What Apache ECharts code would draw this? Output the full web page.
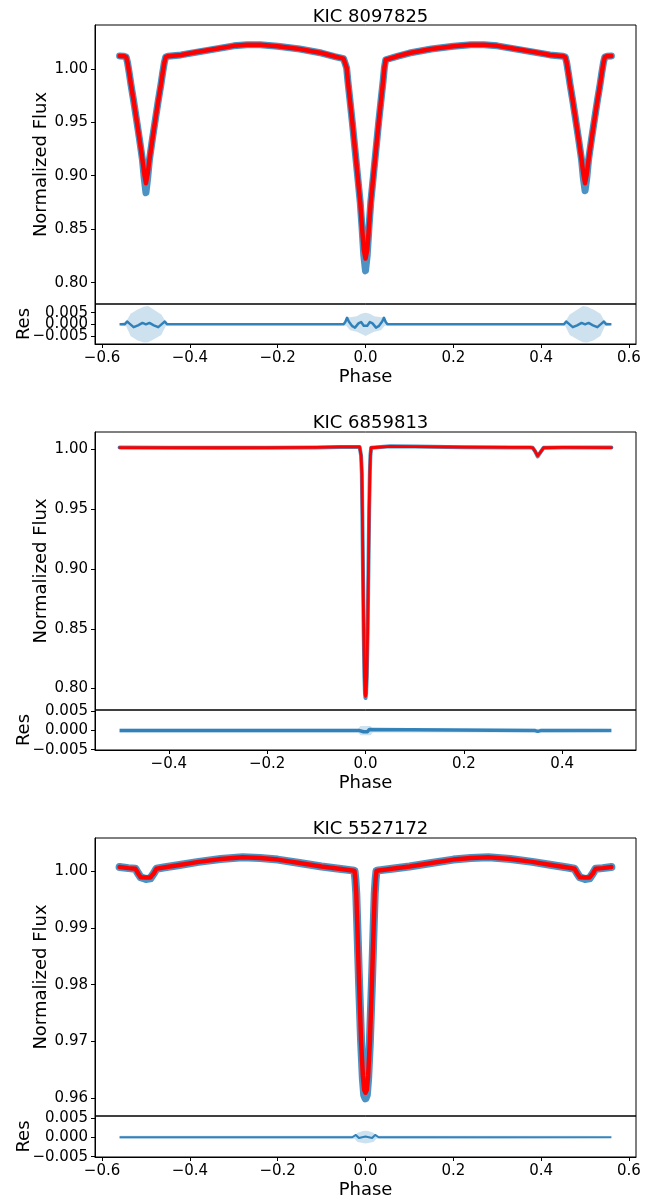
<!DOCTYPE html>
<html>
<head>
<meta charset="utf-8">
<script src="https://cdn.jsdelivr.net/npm/echarts@6/dist/echarts.min.js"></script>
<style>
html,body{margin:0;padding:0;background:#fff;}
#chart{width:664px;height:1198px;}
</style>
</head>
<body>
<div id="chart"></div>
<script>
// ---------------- DATA ----------------
const titles = ['KIC 8097825', 'KIC 6859813', 'KIC 5527172'];

const xTicksWide = [-0.6, -0.4, -0.2, 0.0, 0.2, 0.4, 0.6];
const xTicksNarrow = [-0.4, -0.2, 0.0, 0.2, 0.4];
const yTicks1 = [0.80, 0.85, 0.90, 0.95, 1.00];
const yTicks2 = [0.80, 0.85, 0.90, 0.95, 1.00];
const yTicks3 = [0.96, 0.97, 0.98, 0.99, 1.00];
const resTicks = [-0.005, 0.000, 0.005];

// Panel 1: KIC 8097825
const phase1 = [-0.560,-0.550,-0.545,-0.542,-0.538,-0.534,-0.528,-0.522,-0.515,-0.508,
  -0.504,-0.500,-0.496,-0.492,-0.485,-0.478,-0.472,-0.466,-0.462,-0.458,
  -0.455,-0.450,-0.420,-0.400,-0.350,-0.300,-0.270,-0.240,-0.200,-0.150,
  -0.100,-0.070,-0.050,-0.046,-0.043,-0.040,-0.036,-0.030,-0.024,-0.018,
  -0.012,-0.008,-0.004,0.000,0.004,0.008,0.012,
  0.018,0.024,0.030,0.036,0.040,0.043,0.046,0.050,0.070,0.100,
  0.150,0.200,0.240,0.270,0.300,0.350,0.400,0.420,0.450,0.455,
  0.458,0.462,0.466,0.472,0.478,0.485,0.492,0.496,0.500,0.504,
  0.508,0.515,0.522,0.528,0.534,0.538,0.542,0.545,0.550,0.560];
const model1 = [1.0120,1.0118,1.0110,1.0060,0.9960,0.9850,0.9700,0.9540,0.9350,0.9150,
  0.9020,0.8930,0.9020,0.9150,0.9350,0.9540,0.9700,0.9850,0.9960,1.0060,
  1.0110,1.0118,1.0130,1.0145,1.0180,1.0215,1.0225,1.0225,1.0212,1.0185,
  1.0148,1.0115,1.0095,1.0085,1.0010,0.9880,0.9730,0.9500,0.9250,0.9000,
  0.8750,0.8520,0.8310,0.8225,0.8310,0.8520,0.8750,
  0.9000,0.9250,0.9500,0.9730,0.9880,1.0010,1.0085,1.0095,1.0115,1.0148,
  1.0185,1.0212,1.0225,1.0225,1.0215,1.0180,1.0145,1.0130,1.0118,1.0110,
  1.0060,0.9960,0.9850,0.9700,0.9540,0.9350,0.9150,0.9020,0.8930,0.9020,
  0.9150,0.9350,0.9540,0.9700,0.9850,0.9960,1.0060,1.0110,1.0118,1.0120];
const obs1 = [1.0120,1.0118,1.0110,1.0060,0.9960,0.9850,0.9700,0.9540,0.9350,0.9150,
  0.8980,0.8840,0.8980,0.9150,0.9350,0.9540,0.9700,0.9850,0.9960,1.0060,
  1.0110,1.0118,1.0130,1.0145,1.0180,1.0215,1.0225,1.0225,1.0212,1.0185,
  1.0148,1.0115,1.0095,1.0085,1.0010,0.9880,0.9730,0.9500,0.9250,0.9000,
  0.8750,0.8520,0.8260,0.8110,0.8260,0.8520,0.8750,
  0.9000,0.9250,0.9500,0.9730,0.9880,1.0010,1.0085,1.0095,1.0115,1.0148,
  1.0185,1.0212,1.0225,1.0225,1.0215,1.0180,1.0145,1.0130,1.0118,1.0110,
  1.0060,0.9960,0.9850,0.9700,0.9540,0.9350,0.9150,0.8980,0.8860,0.8980,
  0.9150,0.9350,0.9540,0.9700,0.9850,0.9960,1.0060,1.0110,1.0118,1.0120];
const resPhase1 = [-0.560,-0.548,-0.543,-0.538,-0.528,-0.518,-0.508,-0.500,-0.492,-0.482,
  -0.472,-0.462,-0.457,-0.452,-0.050,-0.046,-0.042,-0.038,-0.030,-0.024,
  -0.016,-0.010,-0.004,0.000,0.004,0.010,0.016,0.024,0.030,0.038,
  0.042,0.046,0.050,0.452,0.457,0.462,0.472,0.482,0.492,0.500,
  0.508,0.518,0.528,0.538,0.543,0.548,0.560];
const res1 = [0.0000,0.0000,0.0012,0.0004,-0.0012,-0.0004,0.0006,0.0000,0.0006,-0.0004,
  -0.0012,0.0004,0.0012,0.0000,0.0000,0.0010,0.0028,0.0012,-0.0008,-0.0014,
  0.0004,0.0010,-0.0006,-0.0008,-0.0006,0.0010,0.0004,-0.0014,-0.0008,0.0012,
  0.0028,0.0010,0.0000,0.0000,0.0012,0.0004,-0.0012,-0.0004,0.0006,0.0000,
  0.0006,-0.0004,-0.0012,0.0004,0.0012,0.0000,0.0000];
const envPhase1 = [-0.560,-0.545,-0.535,-0.520,-0.505,-0.495,-0.480,-0.465,-0.455,-0.450,
  -0.050,-0.044,-0.035,-0.020,-0.010,0.000,0.010,0.020,0.035,0.044,
  0.050,0.450,0.455,0.465,0.480,0.495,0.505,0.520,0.535,0.545,0.560];
const envUp1 = [0.0004,0.0012,0.0045,0.0062,0.0075,0.0078,0.0060,0.0042,0.0012,0.0004,
  0.0004,0.0032,0.0030,0.0035,0.0045,0.0050,0.0045,0.0035,0.0030,0.0032,
  0.0004,0.0004,0.0012,0.0042,0.0060,0.0078,0.0075,0.0062,0.0045,0.0012,0.0004];
const envLo1 = [-0.0004,-0.0008,-0.0050,-0.0068,-0.0078,-0.0076,-0.0062,-0.0045,-0.0008,-0.0004,
  -0.0004,-0.0006,-0.0025,-0.0032,-0.0040,-0.0050,-0.0040,-0.0032,-0.0025,-0.0006,
  -0.0004,-0.0004,-0.0008,-0.0045,-0.0062,-0.0076,-0.0078,-0.0068,-0.0050,-0.0008,-0.0004];

// Panel 2: KIC 6859813
const phase2 = [-0.500,-0.400,-0.300,-0.200,-0.100,-0.050,
  -0.012,-0.010,-0.009,-0.0075,-0.0065,-0.0052,-0.0038,-0.0022,-0.0010,0.0000,
  0.0012,0.0026,0.0044,0.0060,0.0075,0.0088,0.0100,0.0115,0.0130,
  0.050,0.100,0.200,0.300,0.335,0.340,0.345,0.350,0.352,0.357,0.362,0.366,0.400,0.500];
const model2 = [1.0017,1.0016,1.0015,1.0016,1.0018,1.0022,
  1.0022,1.0010,0.9950,0.9800,0.9500,0.9000,0.8500,0.8100,0.7960,0.7935,
  0.7960,0.8100,0.8500,0.9000,0.9500,0.9800,0.9950,1.0015,1.0024,
  1.0027,1.0025,1.0020,1.0018,1.0018,1.0015,0.9985,0.9948,0.9948,0.9985,1.0015,1.0018,1.0018,1.0017];
const obs2 = [1.0017,1.0016,1.0015,1.0016,1.0018,1.0022,
  1.0022,1.0010,0.9950,0.9800,0.9500,0.9000,0.8500,0.8100,0.7950,0.7920,
  0.7950,0.8100,0.8500,0.9000,0.9500,0.9800,0.9950,1.0015,1.0024,
  1.0027,1.0025,1.0020,1.0018,1.0018,1.0015,0.9985,0.9942,0.9942,0.9985,1.0015,1.0018,1.0018,1.0017];
const resPhase2 = [-0.500,-0.012,-0.008,-0.004,0.000,0.004,0.008,0.012,0.345,0.350,0.356,0.500];
const res2 = [0.0000,0.0000,0.0003,-0.0003,0.0002,-0.0003,0.0003,0.0000,0.0000,-0.0002,0.0000,0.0000];
const envPhase2 = [-0.500,-0.015,-0.010,0.010,0.015,0.500];
const envUp2 = [0.0005,0.0005,0.0012,0.0012,0.0005,0.0005];
const envLo2 = [-0.0005,-0.0005,-0.0012,-0.0012,-0.0005,-0.0005];

// Panel 3: KIC 5527172
const phase3 = [-0.560,-0.540,-0.524,-0.518,-0.512,-0.510,-0.500,-0.490,-0.488,-0.482,
  -0.476,-0.460,-0.420,-0.380,-0.330,-0.280,-0.240,-0.200,-0.150,-0.100,
  -0.060,-0.030,-0.025,-0.023,-0.021,-0.0185,-0.0145,-0.010,-0.006,-0.003,
  0.000,
  0.003,0.006,0.010,0.0145,0.0185,0.021,0.023,0.025,0.030,0.060,
  0.100,0.150,0.200,0.240,0.280,0.330,0.380,0.420,0.460,0.476,
  0.482,0.488,0.490,0.500,0.510,0.512,0.518,0.524,0.540,0.560];
const model3 = [1.0007,1.0005,1.0004,0.9996,0.9989,0.99885,0.99885,0.99885,0.9989,0.9996,
  1.0004,1.0006,1.0011,1.0016,1.0021,1.0024,1.0023,1.0020,1.0014,1.0008,
  1.0004,1.0001,1.0000,0.9985,0.9960,0.9900,0.9800,0.9700,0.9640,0.9615,
  0.9610,
  0.9615,0.9640,0.9700,0.9800,0.9900,0.9960,0.9985,1.0000,1.0001,1.0004,
  1.0008,1.0014,1.0020,1.0023,1.0024,1.0021,1.0016,1.0011,1.0006,1.0004,
  0.9996,0.9989,0.99885,0.99885,0.99885,0.9989,0.9996,1.0004,1.0005,1.0007];
const obs3 = [1.0007,1.0005,1.0004,0.9996,0.9989,0.99870,0.99860,0.99870,0.9989,0.9996,
  1.0004,1.0006,1.0011,1.0016,1.0021,1.0024,1.0023,1.0020,1.0014,1.0008,
  1.0004,1.0001,1.0000,0.9985,0.9960,0.9900,0.9800,0.9700,0.9635,0.9606,
  0.9600,
  0.9606,0.9635,0.9700,0.9800,0.9900,0.9960,0.9985,1.0000,1.0001,1.0004,
  1.0008,1.0014,1.0020,1.0023,1.0024,1.0021,1.0016,1.0011,1.0006,1.0004,
  0.9996,0.9989,0.99870,0.99860,0.99870,0.9989,0.9996,1.0004,1.0005,1.0007];
const resPhase3 = [-0.560,-0.030,-0.022,-0.015,0.000,0.015,0.022,0.030,0.560];
const res3 = [0.0000,0.0000,0.0006,-0.0002,0.0002,-0.0002,0.0006,0.0000,0.0000];
const envPhase3 = [-0.560,-0.025,-0.018,-0.006,0.000,0.006,0.018,0.025,0.560];
const envUp3 = [0.0004,0.0004,0.0012,0.0016,0.0017,0.0016,0.0012,0.0004,0.0004];
const envLo3 = [-0.0004,-0.0004,-0.0012,-0.0015,-0.0016,-0.0015,-0.0012,-0.0004,-0.0004];

// ---------------- LAYOUT / STYLE ----------------
const FONT = 'DejaVu Sans';
const BLUE = '#1f77b4';
const RED = '#ff0000';
const LEFT = 95, WIDTH = 541;

const panels = [
  {title: titles[0], titleTop: 3, top: 25, mainH: 279, resH: 40,
   x: [-0.616, 0.616], xt: xTicksWide, y: [0.780, 1.041], yt: yTicks1, r: [-0.0084, 0.0087],
   ph: phase1, mod: model1, obs: obs1, rp: resPhase1, rv: res1, ep: envPhase1, eu: envUp1, el: envLo1,
   obsW: 7, modW: 4.5, resW: 2.5},
  {title: titles[1], titleTop: 409, top: 432, mainH: 278, resH: 40,
   x: [-0.55, 0.55], xt: xTicksNarrow, y: [0.782, 1.0147], yt: yTicks2, r: [-0.0051, 0.0054],
   ph: phase2, mod: model2, obs: obs2, rp: resPhase2, rv: res2, ep: envPhase2, eu: envUp2, el: envLo2,
   obsW: 4, modW: 2.8, resW: 3.5},
  {title: titles[2], titleTop: 815, top: 838, mainH: 278, resH: 41,
   x: [-0.616, 0.616], xt: xTicksWide, y: [0.9569, 1.0058], yt: yTicks3, r: [-0.0051, 0.0055],
   ph: phase3, mod: model3, obs: obs3, rp: resPhase3, rv: res3, ep: envPhase3, eu: envUp3, el: envLo3,
   obsW: 8, modW: 4.5, resW: 2}
];

const minus = s => s.replace('-', '\u2212');
const fmtX = v => minus(v.toFixed(1));
const fmtY = v => v.toFixed(2);
const fmtR = v => minus(v.toFixed(3));

const zip = (xs, ys) => xs.map((x, i) => [x, ys[i]]);

const grid = [], xAxis = [], yAxis = [], series = [], title = [];
const labelStyle = {color: '#000', fontFamily: FONT, fontSize: 15, hideOverlap: false, interval: 0};
const nameStyle = {color: '#000', fontFamily: FONT, fontSize: 18};

panels.forEach((p, k) => {
  const gi = grid.length;
  grid.push({left: LEFT, top: p.top, width: WIDTH, height: p.mainH, show: true,
    borderColor: '#000', borderWidth: 1, containLabel: false, outerBoundsMode: 'none'});
  const ri = grid.length;
  grid.push({left: LEFT, top: p.top + p.mainH, width: WIDTH, height: p.resH, show: true,
    borderColor: '#000', borderWidth: 1, containLabel: false, outerBoundsMode: 'none'});
  title.push({text: p.title, left: LEFT + WIDTH / 2, top: p.titleTop, textAlign: 'center',
    textStyle: {fontFamily: FONT, fontSize: 18, fontWeight: 'normal', color: '#000'}});

  const xm = xAxis.length;
  xAxis.push({type: 'value', gridIndex: gi, position: 'bottom', min: p.x[0], max: p.x[1],
    axisLine: {show: false}, axisTick: {show: false}, axisLabel: {show: false}, splitLine: {show: false}});
  const xr = xAxis.length;
  xAxis.push({type: 'value', gridIndex: ri, position: 'bottom', min: p.x[0], max: p.x[1],
    name: 'Phase', nameLocation: 'middle', nameGap: 24, nameMoveOverlap: false, nameTextStyle: nameStyle,
    axisLine: {show: true, onZero: false, lineStyle: {color: '#000'}},
    axisTick: {show: true, length: 4, customValues: p.xt, lineStyle: {color: '#000'}},
    axisLabel: Object.assign({customValues: p.xt, formatter: fmtX, margin: 7}, labelStyle),
    splitLine: {show: false}});

  const ym = yAxis.length;
  yAxis.push({type: 'value', gridIndex: gi, position: 'left', offset: 0, min: p.y[0], max: p.y[1],
    name: 'Normalized Flux', nameLocation: 'middle', nameGap: 45, nameMoveOverlap: false, nameTextStyle: nameStyle,
    axisLine: {show: true, onZero: false, lineStyle: {color: '#000'}},
    axisTick: {show: true, length: 4, customValues: p.yt, lineStyle: {color: '#000'}},
    axisLabel: Object.assign({customValues: p.yt, formatter: fmtY, margin: 7}, labelStyle),
    splitLine: {show: false}});
  const yr = yAxis.length;
  yAxis.push({type: 'value', gridIndex: ri, position: 'left', offset: 0, min: p.r[0], max: p.r[1],
    name: 'Res', nameLocation: 'middle', nameGap: 62, nameMoveOverlap: false, nameTextStyle: nameStyle,
    axisLine: {show: true, onZero: false, lineStyle: {color: '#000'}},
    axisTick: {show: false}, axisLabel: {show: false},
    splitLine: {show: false}});
  // one helper axis per residual tick so that crowded labels are all drawn
  resTicks.forEach(v => {
    yAxis.push({type: 'value', gridIndex: ri, position: 'left', offset: 0, min: p.r[0], max: p.r[1],
      axisLine: {show: false, onZero: false},
      axisTick: {show: true, length: 4, customValues: [v], lineStyle: {color: '#000'}},
      axisLabel: Object.assign({customValues: [v], formatter: fmtR, margin: 7}, labelStyle),
      splitLine: {show: false}});
  });

  // observations (blue) under model (red)
  series.push({type: 'line', xAxisIndex: xm, yAxisIndex: ym, data: zip(p.ph, p.obs),
    showSymbol: false, smooth: false, clip: true, z: 2,
    lineStyle: {color: BLUE, width: p.obsW, opacity: 0.8, join: 'round', cap: 'round'}});
  series.push({type: 'line', xAxisIndex: xm, yAxisIndex: ym, data: zip(p.ph, p.mod),
    showSymbol: false, smooth: false, clip: true, z: 3,
    lineStyle: {color: RED, width: p.modW, join: 'round', cap: 'round'}});
  // residual scatter envelope
  [p.eu, p.el].forEach(env => {
    series.push({type: 'line', xAxisIndex: xr, yAxisIndex: yr, data: zip(p.ep, env),
      showSymbol: false, clip: true, z: 1, lineStyle: {width: 0, opacity: 0},
      areaStyle: {color: BLUE, opacity: 0.22, origin: 0}});
  });
  series.push({type: 'line', xAxisIndex: xr, yAxisIndex: yr, data: zip(p.rp, p.rv),
    showSymbol: false, clip: true, z: 2,
    lineStyle: {color: BLUE, width: p.resW, opacity: 0.9, join: 'round'}});
});

const chart = echarts.init(document.getElementById('chart'), null, {renderer: 'canvas'});
chart.setOption({animation: false, backgroundColor: '#fff', title, grid, xAxis, yAxis, series});
</script>
</body>
</html>
